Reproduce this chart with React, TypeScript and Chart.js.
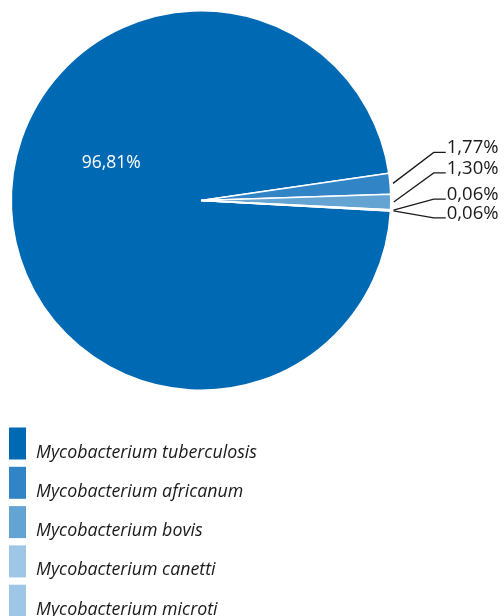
import React, { useEffect, useRef } from "react";
import { Chart, registerables } from "chart.js";

Chart.register(...registerables);

const categories = [
  "Mycobacterium tuberculosis",
  "Mycobacterium africanum",
  "Mycobacterium bovis",
  "Mycobacterium canetti",
  "Mycobacterium microti",
];
const shares = [96.81, 1.77, 1.3, 0.06, 0.06];
const valueLabels = ["96,81%", "1,77%", "1,30%", "0,06%", "0,06%"];
const colors = ["#0069b4", "#3184c5", "#63a4d3", "#9ec6e6", "#9ec6e6"];

// layout constants (not data)
const outsideLabelShift = [0, -31, -29, -11, 7];
const FONT = '"Open Sans", "DejaVu Sans", sans-serif';

const labelPlugin = {
  id: "customLabels",
  afterDraw(chart: any) {
    const ctx = chart.ctx as CanvasRenderingContext2D;
    const meta = chart.getDatasetMeta(0);
    const labels = chart.data.labels as string[];
    const bg = chart.data.datasets[0].backgroundColor as string[];
    ctx.save();
    meta.data.forEach((arc: any, i: number) => {
      const p = arc.getProps(["x", "y", "startAngle", "endAngle", "outerRadius"], true);
      const mid = (p.startAngle + p.endAngle) / 2;
      if (i === 0) {
        const a = mid + (25 * Math.PI) / 180;
        const r = p.outerRadius * 0.512;
        ctx.fillStyle = "#ffffff";
        ctx.font = `17.5px ${FONT}`;
        ctx.textAlign = "center";
        ctx.textBaseline = "middle";
        ctx.fillText(valueLabels[i], p.x + r * Math.cos(a), p.y + r * Math.sin(a));
      } else {
        const sx = p.x + (p.outerRadius + 3) * Math.cos(mid);
        const sy = p.y + (p.outerRadius + 3) * Math.sin(mid);
        const ly = sy + outsideLabelShift[i];
        const ex = p.x + p.outerRadius + 43;
        ctx.strokeStyle = "#1a1a1a";
        ctx.lineWidth = 1.3;
        ctx.beginPath();
        ctx.moveTo(sx, sy);
        ctx.lineTo(ex, ly);
        ctx.lineTo(ex + 12, ly);
        ctx.stroke();
        ctx.fillStyle = "#1a1a1a";
        ctx.font = `18.5px ${FONT}`;
        ctx.textAlign = "left";
        ctx.textBaseline = "alphabetic";
        ctx.fillText(valueLabels[i], ex + 13, ly + 1);
      }
    });

    // legend
    const top0 = chart.chartArea.bottom + 36.5;
    labels.forEach((lab, i) => {
      const top = top0 + i * 39.3;
      ctx.fillStyle = bg[i];
      ctx.fillRect(9, top, 17, 32);
      ctx.fillStyle = "#1a1a1a";
      ctx.font = `italic 17.8px ${FONT}`;
      ctx.textAlign = "left";
      ctx.textBaseline = "alphabetic";
      ctx.fillText(lab, 36, top + 30);
    });
    ctx.restore();
  },
};

export default function App() {
  const ref = useRef<HTMLCanvasElement | null>(null);
  useEffect(() => {
    document.body.style.margin = "0";
    if (!ref.current) return;
    const chart = new Chart(ref.current, {
      type: "pie",
      data: {
        labels: categories,
        datasets: [
          {
            data: shares,
            backgroundColor: colors,
            borderColor: "#ffffff",
            borderWidth: 1.5,
          },
        ],
      },
      options: {
        responsive: false,
        animation: false,
        rotation: 93.2,
        layout: { padding: { left: 10.5, top: 10, right: 112.5, bottom: 225 } },
        plugins: {
          legend: { display: false },
          tooltip: { enabled: false },
        },
      },
      plugins: [labelPlugin],
    });
    document.fonts
      .load(`17px "Open Sans"`)
      .then(() => document.fonts.load(`italic 17px "Open Sans"`))
      .then(() => chart.update())
      .catch(() => {});
    return () => chart.destroy();
  }, []);
  return (
    <div style={{ width: 504, height: 616 }}>
      <canvas ref={ref} width={504} height={616} style={{ display: "block" }} />
    </div>
  );
}
